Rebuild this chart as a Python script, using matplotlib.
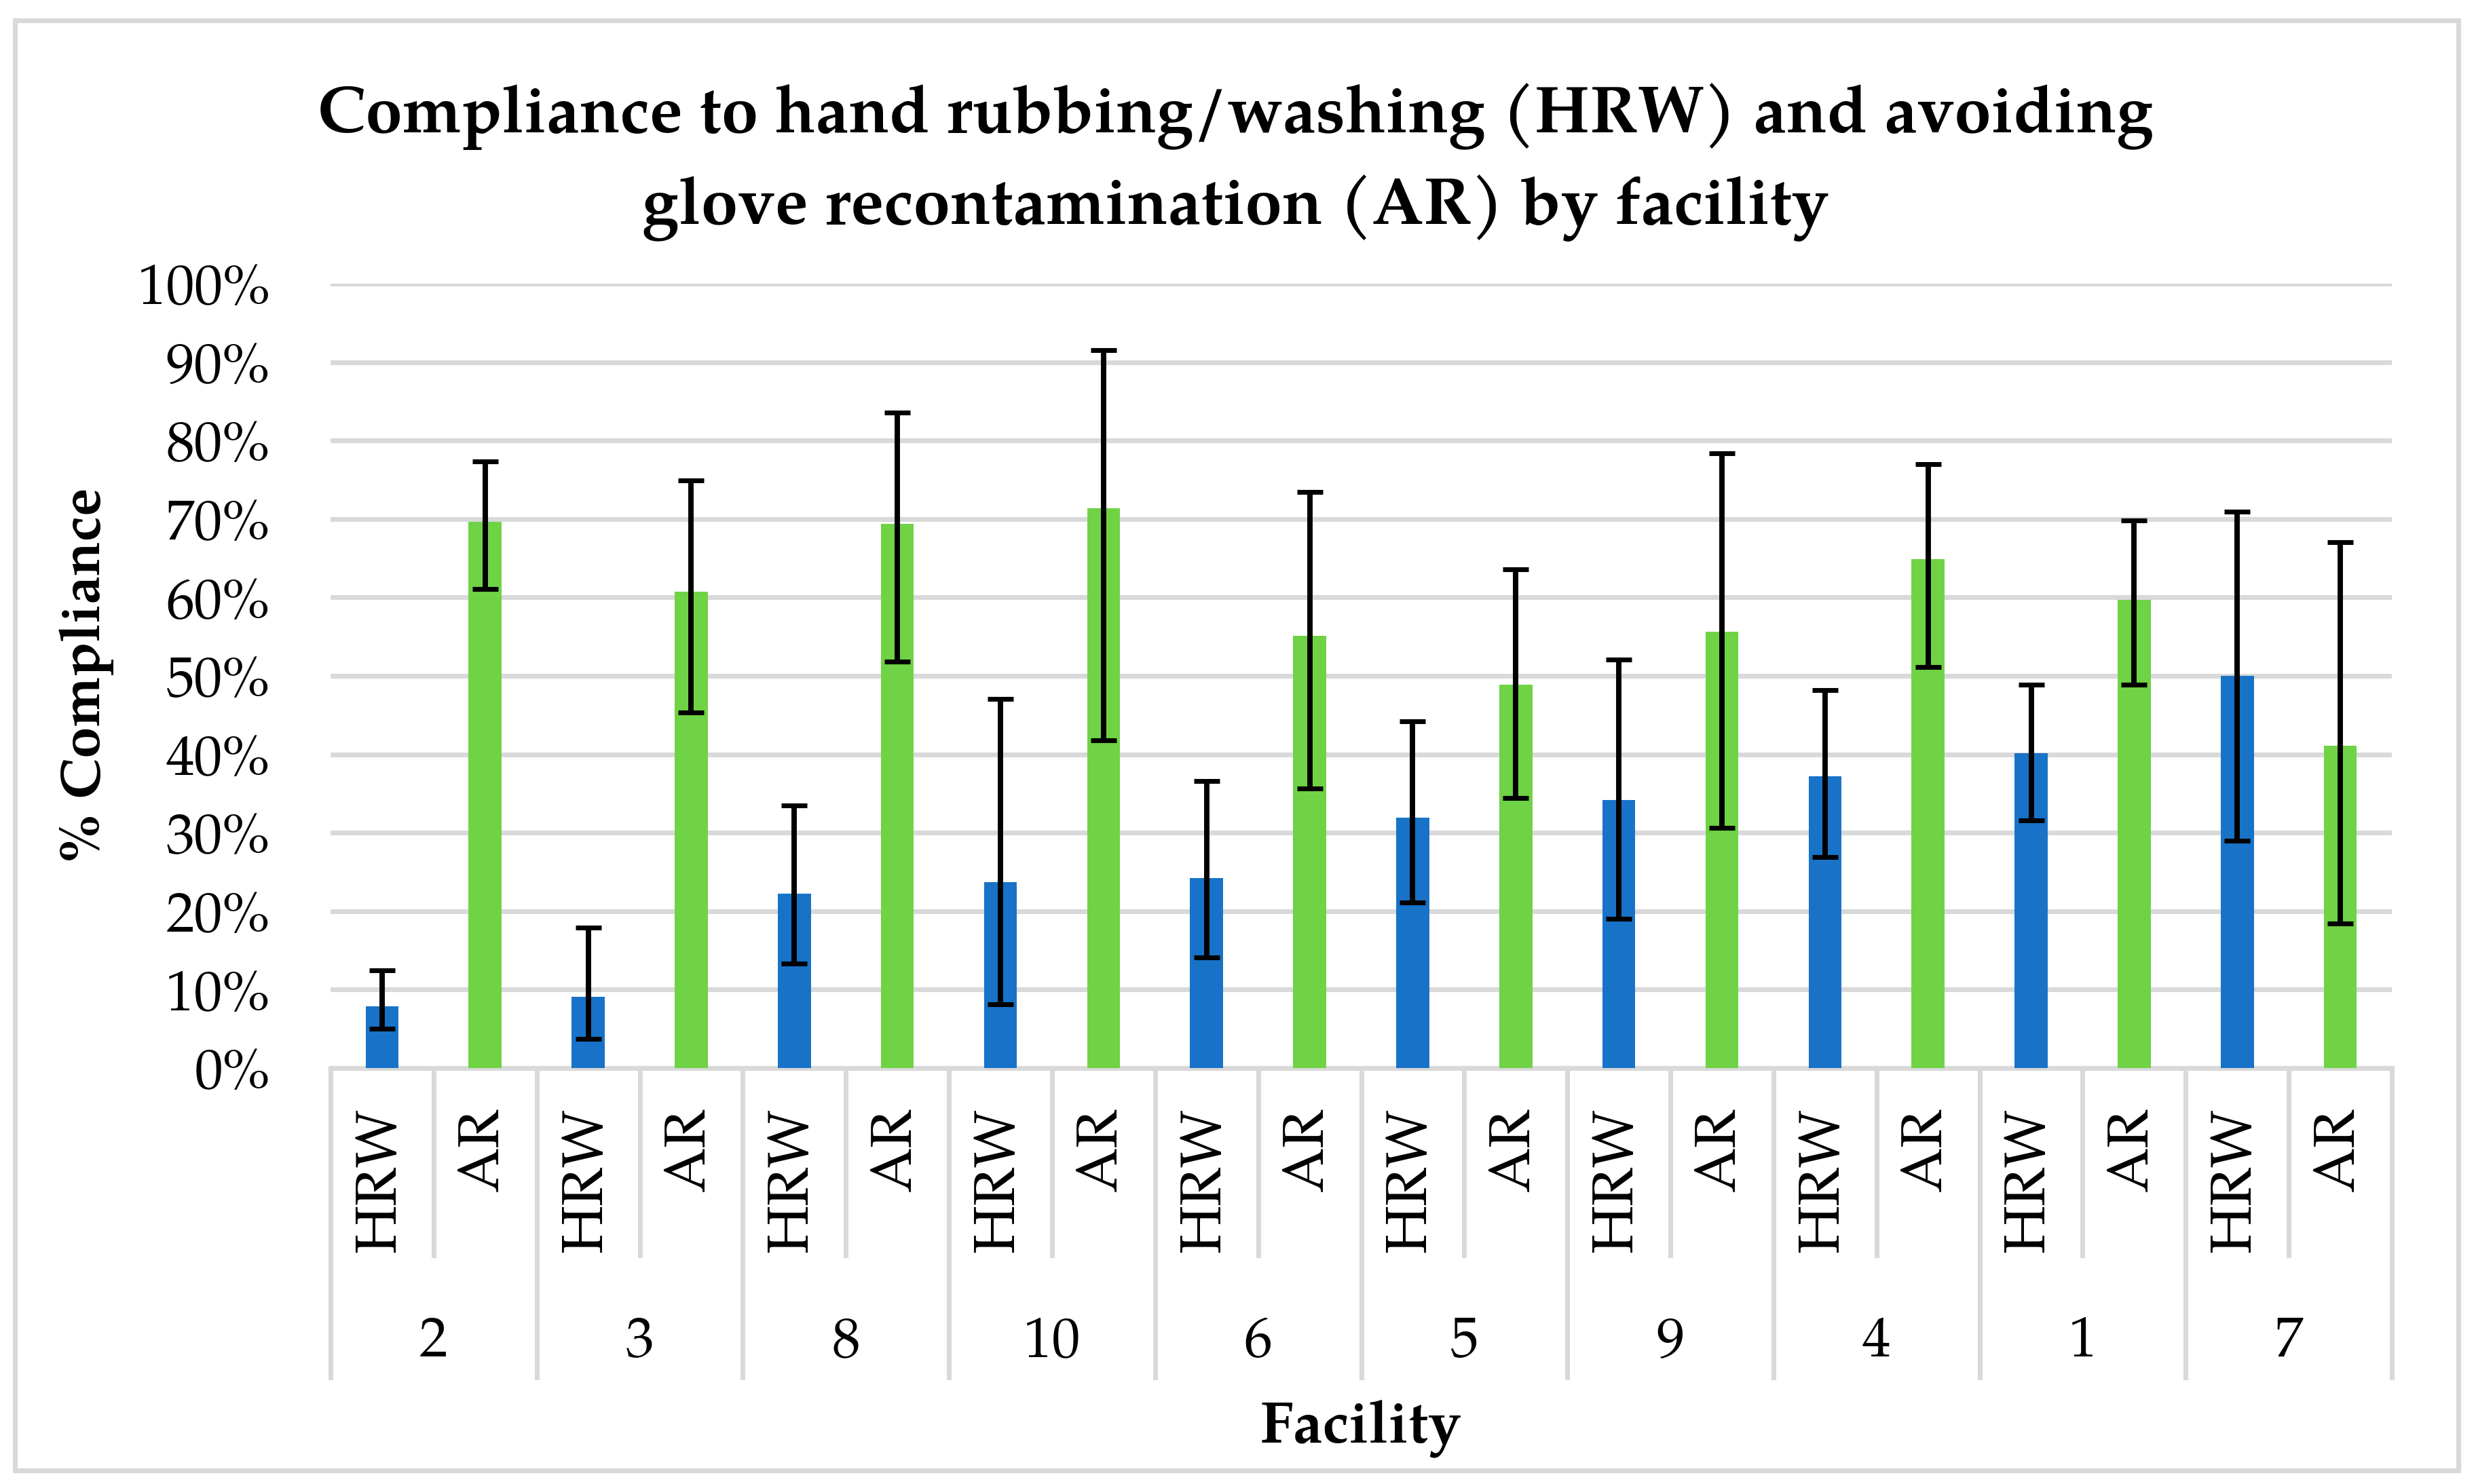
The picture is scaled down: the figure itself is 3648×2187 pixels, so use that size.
import numpy as np
import matplotlib
matplotlib.use("Agg")
import matplotlib.pyplot as plt
from matplotlib import font_manager as fm
from matplotlib.ticker import PercentFormatter, MultipleLocator
from matplotlib.patches import Rectangle
import matplotlib.transforms as mtransforms

# ---------------- data ----------------
facilities = ['2', '3', '8', '10', '6', '5', '9', '4', '1', '7']
series_names = ['HRW', 'AR']
hrw = [7.9, 9.1, 22.2, 23.7, 24.2, 31.9, 34.2, 37.2, 40.1, 50.0]
hrw_lo = [5.0, 3.7, 13.3, 8.1, 14.1, 21.1, 19.0, 26.9, 31.6, 29.0]
hrw_hi = [12.5, 17.9, 33.5, 47.1, 36.6, 44.2, 52.1, 48.2, 48.9, 70.9]
ar = [69.6, 60.7, 69.4, 71.4, 55.1, 48.9, 55.6, 64.9, 59.7, 41.1]
ar_lo = [61.1, 45.3, 51.8, 41.8, 35.6, 34.4, 30.6, 51.1, 48.9, 18.4]
ar_hi = [77.3, 74.9, 83.6, 91.5, 73.4, 63.6, 78.4, 77.0, 69.8, 67.0]
title_lines = ["Compliance to hand rubbing/washing (HRW) and avoiding",
               "glove recontamination (AR) by facility"]
ylabel = "% Compliance"
xlabel = "Facility"

# ---------------- fonts ----------------
names = {f.name for f in fm.fontManager.ttflist}
serif = next((n for n in ['Palatino Linotype', 'Book Antiqua', 'P052', 'TeX Gyre Pagella',
                          'URW Palladio L', 'Palatino', 'Liberation Serif', 'DejaVu Serif']
              if n in names), 'DejaVu Serif')
plt.rcParams['font.family'] = [serif, 'DejaVu Serif']

BLUE = '#1873C8'
GREEN = '#6FD345'
GRID = '#D9D9D9'

W, H, DPI = 3648, 2187, 300
fig = plt.figure(figsize=(W / DPI, H / DPI), dpi=DPI)
fig.patch.set_facecolor('white')

# chart border
fig.patches.append(Rectangle((22 / W, 1 - 2167 / H), (3622 - 22) / W, (2167 - 30) / H,
                             transform=fig.transFigure, fill=False, edgecolor=GRID,
                             linewidth=1.7, zorder=0))

ax_left, ax_right = 487 / W, 3524 / W
ax_bottom, ax_top = 1 - 1574 / H, 1 - 418 / H
ax = fig.add_axes([ax_left, ax_bottom, ax_right - ax_left, ax_top - ax_bottom])

n = len(facilities)
x_hrw = np.arange(n) * 2
x_ar = np.arange(n) * 2 + 1
bw = 0.32

ax.bar(x_hrw, hrw, width=bw, color=BLUE, zorder=3)
ax.bar(x_ar, ar, width=bw, color=GREEN, zorder=3)

hrw_a = np.array(hrw); ar_a = np.array(ar)
ax.errorbar(x_hrw, hrw_a, yerr=[hrw_a - np.array(hrw_lo), np.array(hrw_hi) - hrw_a],
            fmt='none', ecolor='black', elinewidth=1.9, capsize=4.6, capthick=1.7, zorder=4)
ax.errorbar(x_ar, ar_a, yerr=[ar_a - np.array(ar_lo), np.array(ar_hi) - ar_a],
            fmt='none', ecolor='black', elinewidth=1.9, capsize=4.6, capthick=1.7, zorder=4)

ax.set_xlim(-0.5, 2 * n - 0.5)
ax.set_ylim(0, 100)
ax.yaxis.set_major_locator(MultipleLocator(10))
ax.yaxis.set_major_formatter(PercentFormatter(xmax=100, decimals=0))
ax.grid(axis='y', color=GRID, linewidth=1.7, zorder=0)
ax.set_axisbelow(True)
for s in ax.spines.values():
    s.set_visible(False)
ax.tick_params(axis='y', length=0, pad=21.4, labelsize=20)
ax.set_xticks([])
ax.set_facecolor('none')

# multi-level category axis
trans = mtransforms.blended_transform_factory(ax.transData, ax.transAxes)
ax.plot([-0.5, 2 * n - 0.5], [0, 0], transform=trans, color=GRID, lw=1.7,
        clip_on=False, zorder=2, solid_capstyle='projecting')
short_end = (1574 - 1850) / 1156
long_end = (1574 - 2030) / 1156
for k in range(n):
    ax.plot([2 * k + 0.5] * 2, [0, short_end], transform=trans, color=GRID, lw=1.7, clip_on=False)
for k in range(n + 1):
    ax.plot([2 * k - 0.5] * 2, [0, long_end], transform=trans, color=GRID, lw=1.7, clip_on=False)

lab_y = (1574 - 1633) / 1156
for k in range(n):
    ax.text(x_hrw[k], lab_y, series_names[0], transform=trans, rotation=90,
            ha='center', va='top', fontsize=20.5)
    ax.text(x_ar[k], lab_y, series_names[1], transform=trans, rotation=90,
            ha='center', va='top', fontsize=20.5)
    ax.text(2 * k + 0.5, (1574 - 1999) / 1156, facilities[k], transform=trans,
            ha='center', va='baseline', fontsize=20)

fig.text(2005 / W, 1 - 2125 / H, xlabel, ha='center', va='baseline',
         fontsize=21, fontweight='bold')
fig.text(128 / W, 1 - 995 / H, ylabel, ha='center', va='center', rotation=90,
         fontsize=20, fontweight='bold')

# title (fit width to reference)
t1 = fig.text(1820 / W, 1 - 195 / H, title_lines[0], ha='center', va='baseline',
              fontsize=24, fontweight='bold')
t2 = fig.text(1820 / W, 1 - 330 / H, title_lines[1], ha='center', va='baseline',
              fontsize=24, fontweight='bold')
fig.canvas.draw()
r = fig.canvas.get_renderer()
w1 = t1.get_window_extent(r).width
fs = 24 * 2705 / w1
t1.set_fontsize(fs)
t2.set_fontsize(fs)

fig.savefig('out.png', dpi=DPI, facecolor='white')
